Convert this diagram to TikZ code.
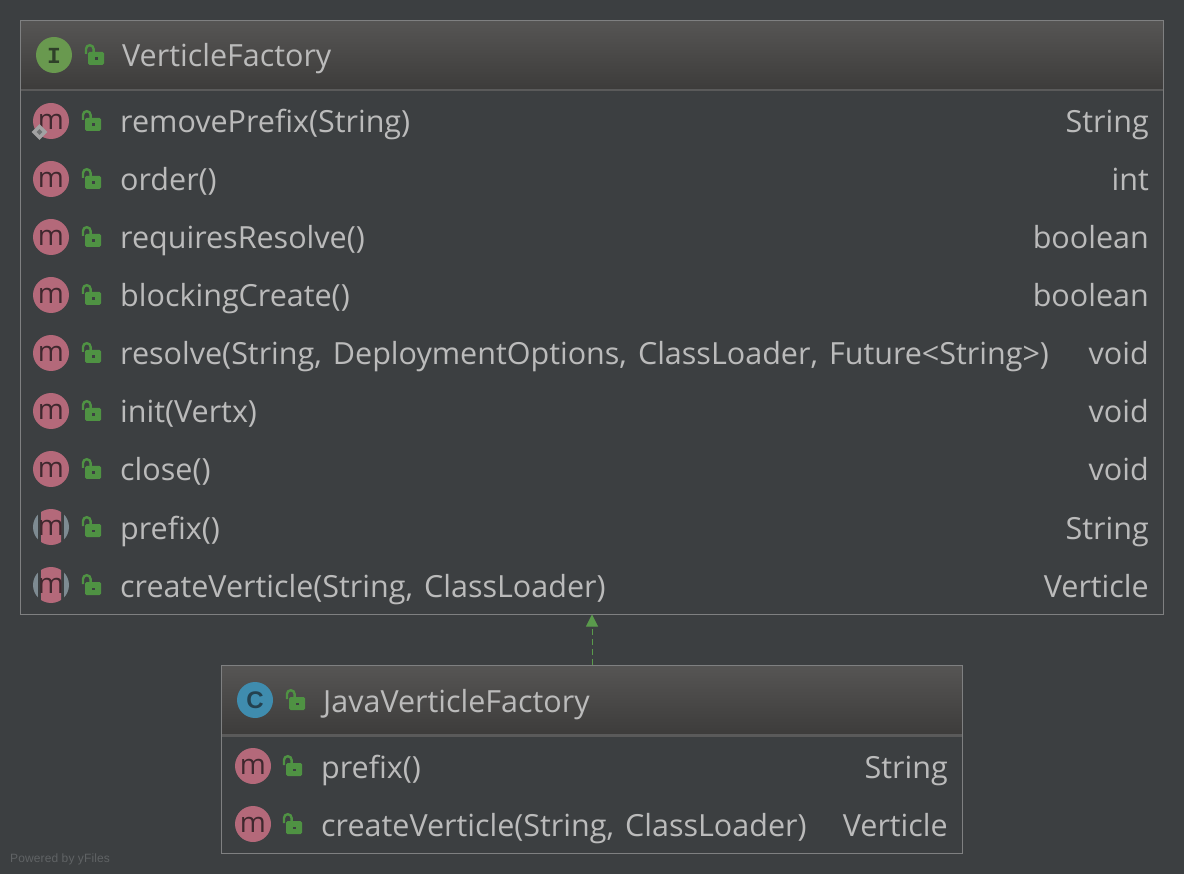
\documentclass[tikz,border=0pt]{standalone}
\usepackage{fontspec}
\setmainfont[WordSpace=1.4]{Open Sans}
\newfontfamily\footfont[LetterSpace=1]{Liberation Sans}
\newfontfamily\iconmono{Liberation Mono}
\newfontfamily\iconsans{Liberation Sans}
\usetikzlibrary{arrows.meta}
\definecolor{bg}{HTML}{3C3F41}
\definecolor{txt}{HTML}{BBBBBB}
\definecolor{edge}{HTML}{7F8081}
\definecolor{sep}{HTML}{5A5A5A}
\definecolor{headtop}{HTML}{565554}
\definecolor{headbot}{HTML}{3D3C3B}
\definecolor{pinkm}{HTML}{B4697A}
\definecolor{inkm}{HTML}{3F282E}
\definecolor{greeni}{HTML}{69994F}
\definecolor{inki}{HTML}{2F4029}
\definecolor{bluec}{HTML}{3F8CAE}
\definecolor{inkc}{HTML}{24414F}
\definecolor{lockg}{HTML}{4F9243}
\definecolor{grayc}{HTML}{7E8B92}
\definecolor{arrowg}{HTML}{5A9A4C}
\definecolor{foot}{HTML}{606365}
\newcommand\mainsz{\fontsize{30.5}{36}\selectfont}
\tikzset{
  umlbox/.style={draw=edge,line width=1pt,inner sep=0pt,fill=none},
  rowtext/.style={text=txt,font=\mainsz,inner sep=0pt,anchor=base west},
  rettext/.style={text=txt,font=\mainsz,inner sep=0pt,anchor=base east},
  iconletter/.style={inner sep=0pt,font=\fontsize{28}{30}\selectfont,anchor=center},
  realize/.style={draw=arrowg,line width=1pt,dash pattern=on 6pt off 4pt,-{Triangle[length=12pt,width=12pt,fill=arrowg]}},
  pics/lockicon/.style={code={
    \fill[lockg,rounded corners=1.5pt] (-6,-3) rectangle (10,10);
    \fill[bg] (0.8,2.5) rectangle (4,5);
    \draw[lockg,line width=2.4pt] (-8,-1) -- (-8,-6) arc[start angle=180,end angle=360,x radius=3.8,y radius=3.8] -- (-0.4,-3);
  }},
  pics/micon/.style={code={
    \fill[pinkm] (0,0) circle[radius=18];
    \node[iconletter,text=inkm] (#1) at (0,1) {m};
  }},
  pics/absicon/.style={code={
    \fill[grayc] (0,0) circle[radius=18];
    \fill[bg] (-13,-18) rectangle (13,18);
    \begin{scope}
      \clip (0,0) circle[radius=18];
      \fill[pinkm,rounded corners=3pt] (-10,-19) rectangle (10,19);
    \end{scope}
    \node[iconletter,text=inkm] (#1) at (0,1) {m};
  }},
}
\newcommand\umlrow[8]{% icon, id, icon x, lock x, text x, ret x, y, text
  \pic at (#3,#7) {#1={#2i}};
  \pic at (#4,#7) {lockicon};
  \node[rowtext] (#2n) at (#5,#7+12) {#8};
}
\newcommand\umlret[4]{\node[rettext] (#1r) at (#2,#3+12) {#4};}
\begin{document}
\begin{tikzpicture}[x=1pt,y=-1pt]
\useasboundingbox (0,0) rectangle (1184,874);
\fill[bg] (0,0) rectangle (1184,874);
% VerticleFactory
\shade[top color=headtop,bottom color=headbot] (20.5,20.5) rectangle (1163.5,89);
\fill[sep] (20.5,89) rectangle (1163.5,91.5);
\node[umlbox,minimum width=1143pt,minimum height=593.5pt] (parent) at (592,317.25) {};
\fill[greeni] (54,55) circle[radius=18];
\node[iconletter,text=inki,font=\fontsize{23}{26}\selectfont\iconmono\bfseries] (parenti) at (54,56) {I};
\pic at (94,55) {lockicon};
\node[rowtext] (parentn) at (122,67) {VerticleFactory};
\umlrow{micon}{a}{51}{91}{120}{1149}{121}{removePrefix(String)}\umlret{a}{1149}{121}{String}
\fill[bg!20!txt,rotate around={45:(39.5,132)}] (34,126.5) rectangle (45,137.5);
\fill[bg!60!txt,rotate around={45:(39.5,132)}] (37.5,130) rectangle (41.5,134);
\umlrow{micon}{b}{51}{91}{120}{1149}{179}{order()}\umlret{b}{1149}{179}{int}
\umlrow{micon}{c}{51}{91}{120}{1149}{237}{requiresResolve()}\umlret{c}{1149}{237}{boolean}
\umlrow{micon}{d}{51}{91}{120}{1149}{295}{blockingCreate()}\umlret{d}{1149}{295}{boolean}
\umlrow{micon}{e}{51}{91}{120}{1149}{353}{resolve(String, DeploymentOptions, ClassLoader, Future<String>)}\umlret{e}{1149}{353}{void}
\umlrow{micon}{f}{51}{91}{120}{1149}{411}{init(Vertx)}\umlret{f}{1149}{411}{void}
\umlrow{micon}{g}{51}{91}{120}{1149}{469}{close()}\umlret{g}{1149}{469}{void}
\umlrow{absicon}{h}{51}{91}{120}{1149}{527}{prefix()}\umlret{h}{1149}{527}{String}
\umlrow{absicon}{j}{51}{91}{120}{1149}{585}{createVerticle(String, ClassLoader)}\umlret{j}{1149}{585}{Verticle}
% JavaVerticleFactory
\shade[top color=headtop,bottom color=headbot] (221.5,665.5) rectangle (962.5,734);
\fill[sep] (221.5,734) rectangle (962.5,736.5);
\node[umlbox,minimum width=741pt,minimum height=187.5pt] (child) at (592,759.25) {};
\fill[bluec] (255,700) circle[radius=18];
\node[iconletter,text=inkc,font=\fontsize{24}{26}\selectfont\iconsans\bfseries] (childi) at (255,700) {C};
\pic at (295,700) {lockicon};
\node[rowtext] (childn) at (323,712) {JavaVerticleFactory};
\umlrow{micon}{k}{253}{292}{321}{948}{766}{prefix()}\umlret{k}{948}{766}{String}
\umlrow{micon}{l}{253}{292}{321}{948}{824}{createVerticle(String, ClassLoader)}\umlret{l}{948}{824}{Verticle}
% realization
\draw[realize] (child.north) -- (child.north |- parent.south);
\node[inner sep=0pt,anchor=base west,text=foot,font=\fontsize{12}{14}\selectfont\footfont] (powered) at (10,862) {Powered by yFiles};
\end{tikzpicture}
\end{document}
